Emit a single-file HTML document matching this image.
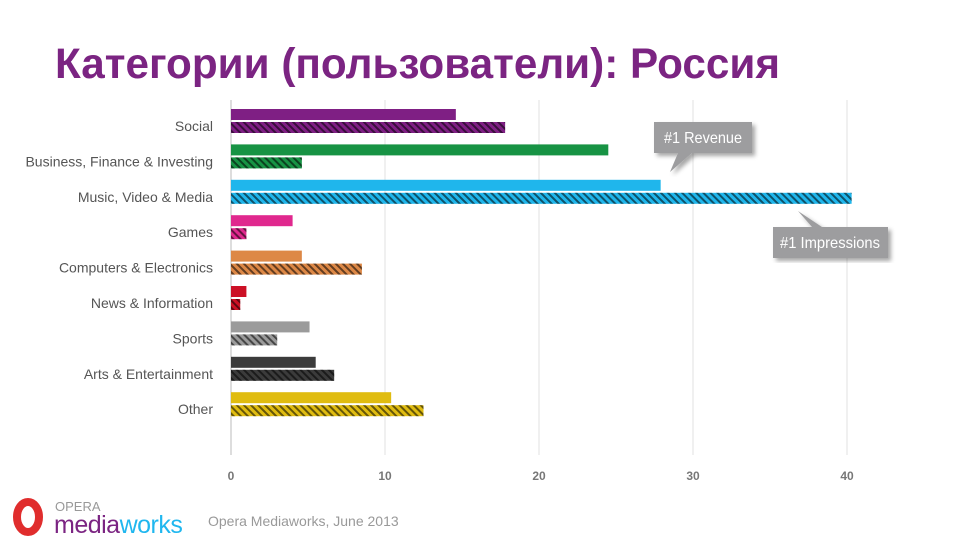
<!DOCTYPE html>
<html><head><meta charset="utf-8"><style>
body{margin:0;width:972px;height:543px;background:#fff;overflow:hidden;font-family:"Liberation Sans",sans-serif}
</style></head><body>
<svg width="972" height="543" xmlns="http://www.w3.org/2000/svg">
<defs>
<pattern id="hatch" width="5" height="5" patternUnits="userSpaceOnUse" patternTransform="rotate(-45)">
<rect width="2" height="5" fill="rgba(0,0,0,0.55)"/>
</pattern>
<filter id="sh"><feDropShadow dx="3" dy="3" stdDeviation="2" flood-opacity="0.35"/></filter>
</defs>
<text x="55" y="78" font-size="43" font-weight="bold" fill="#7b2482" textLength="725" lengthAdjust="spacingAndGlyphs" font-family="Liberation Sans, sans-serif">Категории (пользователи): Россия</text>
<g id="grid"></g>
<g id="bars"></g>
<g id="labels"></g>
<g filter="url(#sh)">
<path d="M654,122 H752 V153 H692 L670,172 L678,153 H654 Z" fill="#9d9d9f"/>
<text x="703" y="143" font-size="16" fill="#fff" text-anchor="middle" textLength="78" lengthAdjust="spacingAndGlyphs">#1 Revenue</text>
</g>
<g filter="url(#sh)">
<path d="M773,227 H812 L798,211 L822,227 H888 V258 H773 Z" fill="#9d9d9f"/>
<text x="830" y="248" font-size="16" fill="#fff" text-anchor="middle" textLength="100" lengthAdjust="spacingAndGlyphs">#1 Impressions</text>
</g>
<g>
<ellipse cx="28" cy="517" rx="11" ry="15" fill="none" stroke="#e02d2d" stroke-width="8"/>
<text x="55" y="511" font-size="13" fill="#999">OPERA</text>
<text x="54" y="533" font-size="25" fill="#7b2482" letter-spacing="-0.5">media<tspan fill="#20b7ef">works</tspan></text>
</g>
<text x="208" y="526" font-size="14" fill="#999">Opera Mediaworks, June 2013</text>
</svg>
<script>
const categories=["Social","Business, Finance & Investing","Music, Video & Media","Games","Computers & Electronics","News & Information","Sports","Arts & Entertainment","Other"];
const revenue=[14.6,24.5,27.9,4.0,4.6,1.0,5.1,5.5,10.4];
const impressions=[17.8,4.6,40.3,1.0,8.5,0.6,3.0,6.7,12.5];
const colors=["#7f1f84","#179344","#1fb6ec","#e0288e","#dd8846","#cc1025","#9b9b9b","#3b3b3b","#e0bc10"];
const ticks=[0,10,20,30,40];
const NS="http://www.w3.org/2000/svg";
const x=v=>231+v*15.4;
const rowY=i=>109+i*35.4;
function mk(tag,attrs,parent){const e=document.createElementNS(NS,tag);for(const k in attrs)e.setAttribute(k,attrs[k]);parent.appendChild(e);return e;}
const grid=document.getElementById('grid'),bars=document.getElementById('bars'),labels=document.getElementById('labels');
ticks.forEach(t=>{
 const l=mk('line',{x1:x(t),x2:x(t),y1:100,y2:455,stroke:t===0?'#bbb':'#e2e2e2','stroke-width':1},grid);
 
 
 const tx=mk('text',{x:x(t),y:480,'font-size':12,'font-weight':'bold',fill:'#777','text-anchor':'middle'},grid);
 tx.textContent=t;
 
 
});
categories.forEach((c,i)=>{
 const y=rowY(i);
 const r=mk('rect',{x:x(0),y:y,width:x(revenue[i])-x(0),height:11,fill:colors[i]},bars);
 
 
 const b=mk('rect',{x:x(0),y:y+13,width:x(impressions[i])-x(0),height:11,fill:colors[i]},bars);
 
 
 const h=mk('rect',{x:x(0),y:y+13,width:x(impressions[i])-x(0),height:11,fill:'url(#hatch)'},bars);
 
 
 const t=mk('text',{x:213,y:y+22,'font-size':14,fill:'#555','text-anchor':'end'},labels);
 t.textContent=c;
 
 
});
</script>
</body></html>
